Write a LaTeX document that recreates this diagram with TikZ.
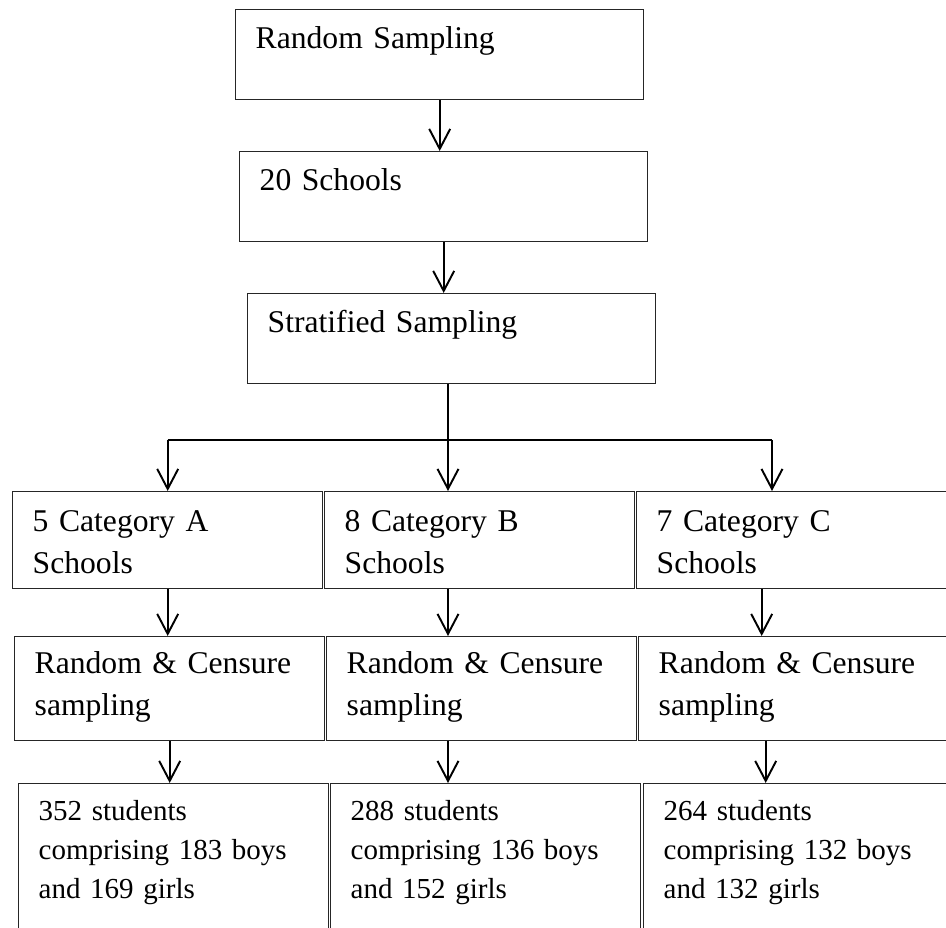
\documentclass[tikz,border=0pt]{standalone}
\usepackage{fontspec}
\setmainfont{Liberation Serif}
\usetikzlibrary{positioning,arrows.meta}

\begin{document}
\begin{tikzpicture}[
        stage/.style={draw=black!85, line width=0.4pt, anchor=north west, align=left, inner ysep=0pt, inner xsep=0.2cm, text width=3.68cm, text height=0.39cm, text depth=0.51cm, font=\fontsize{9}{12}\selectfont},
        group/.style={stage, text width=2.7cm, text height=0.40cm, text depth=0.57cm},
        method/.style={group, text height=0.37cm, text depth=0.67cm},
        result/.style={method, text depth=1.63cm, font=\fontsize{8.25}{11.1}\selectfont},
        flow/.style={-{Straight Barb[length=0.2cm,width=0.21cm]}, line width=0.55pt},
        link/.style={line width=0.55pt}
    ]
        \useasboundingbox (0,0) rectangle (9.46,-9.28);
        \clip (0,0) rectangle (9.46,-9.28);

        % Top chain
        \node[stage] (rand) at (2.35,-0.09) {Random Sampling};
        \node[stage] (twenty) at (2.39,-1.51) {20 Schools};
        \node[stage] (strat) at (2.47,-2.93) {Stratified Sampling};

        % Categories (y = -4.91)
        \node[group] (catA) at (0.12,-4.91) {5 Category A\\Schools};
        \node[group] (catB) at (3.24,-4.91) {8 Category B\\Schools};
        \node[group] (catC) at (6.36,-4.91) {7 Category C\\Schools};

        % Sampling per category (y = -6.36)
        \node[method] (rcA) at (0.14,-6.36) {Random \& Censure\\sampling};
        \node[method] (rcB) at (3.26,-6.36) {Random \& Censure\\sampling};
        \node[method] (rcC) at (6.38,-6.36) {Random \& Censure\\sampling};

        % Resulting students (y = -7.83)
        \node[result] (resA) at (0.18,-7.83) {352 students\\comprising 183 boys\\and 169 girls};
        \node[result] (resB) at (3.30,-7.83) {288 students\\comprising 136 boys\\and 152 girls};
        \node[result] (resC) at (6.43,-7.83) {264 students\\comprising 132 boys\\and 132 girls};

        % Arrows down the chain
        \draw[flow] (rand.south) -- (rand.south |- twenty.north);
        \draw[flow] (twenty.south) -- (twenty.south |- strat.north);

        % Split into three branches
        \coordinate (split) at (4.48,-4.40);
        \coordinate (colC) at (7.72,-4.40);
        \draw[flow] (split |- strat.south) -- (split |- catB.north);
        \draw[link] (split -| catA.north) -- (colC);
        \draw[flow] (split -| catA.north) -- (catA.north);
        \draw[flow] (colC) -- (colC |- catC.north);

        % Categories -> sampling
        \draw[flow] (catA.south) -- (catA.south |- rcA.north);
        \draw[flow] (split |- catB.south) -- (split |- rcB.north);
        \draw[flow] ([xshift=-0.3cm]catC.south) -- ([xshift=-0.3cm]catC.south |- rcC.north);

        % Sampling -> students
        \draw[flow] (rcA.south) -- (rcA.south |- resA.north);
        \draw[flow] (split |- rcB.south) -- (split |- resB.north);
        \draw[flow] ([xshift=-0.28cm]rcC.south) -- ([xshift=-0.28cm]rcC.south |- resC.north);
    \end{tikzpicture}
\end{document}
